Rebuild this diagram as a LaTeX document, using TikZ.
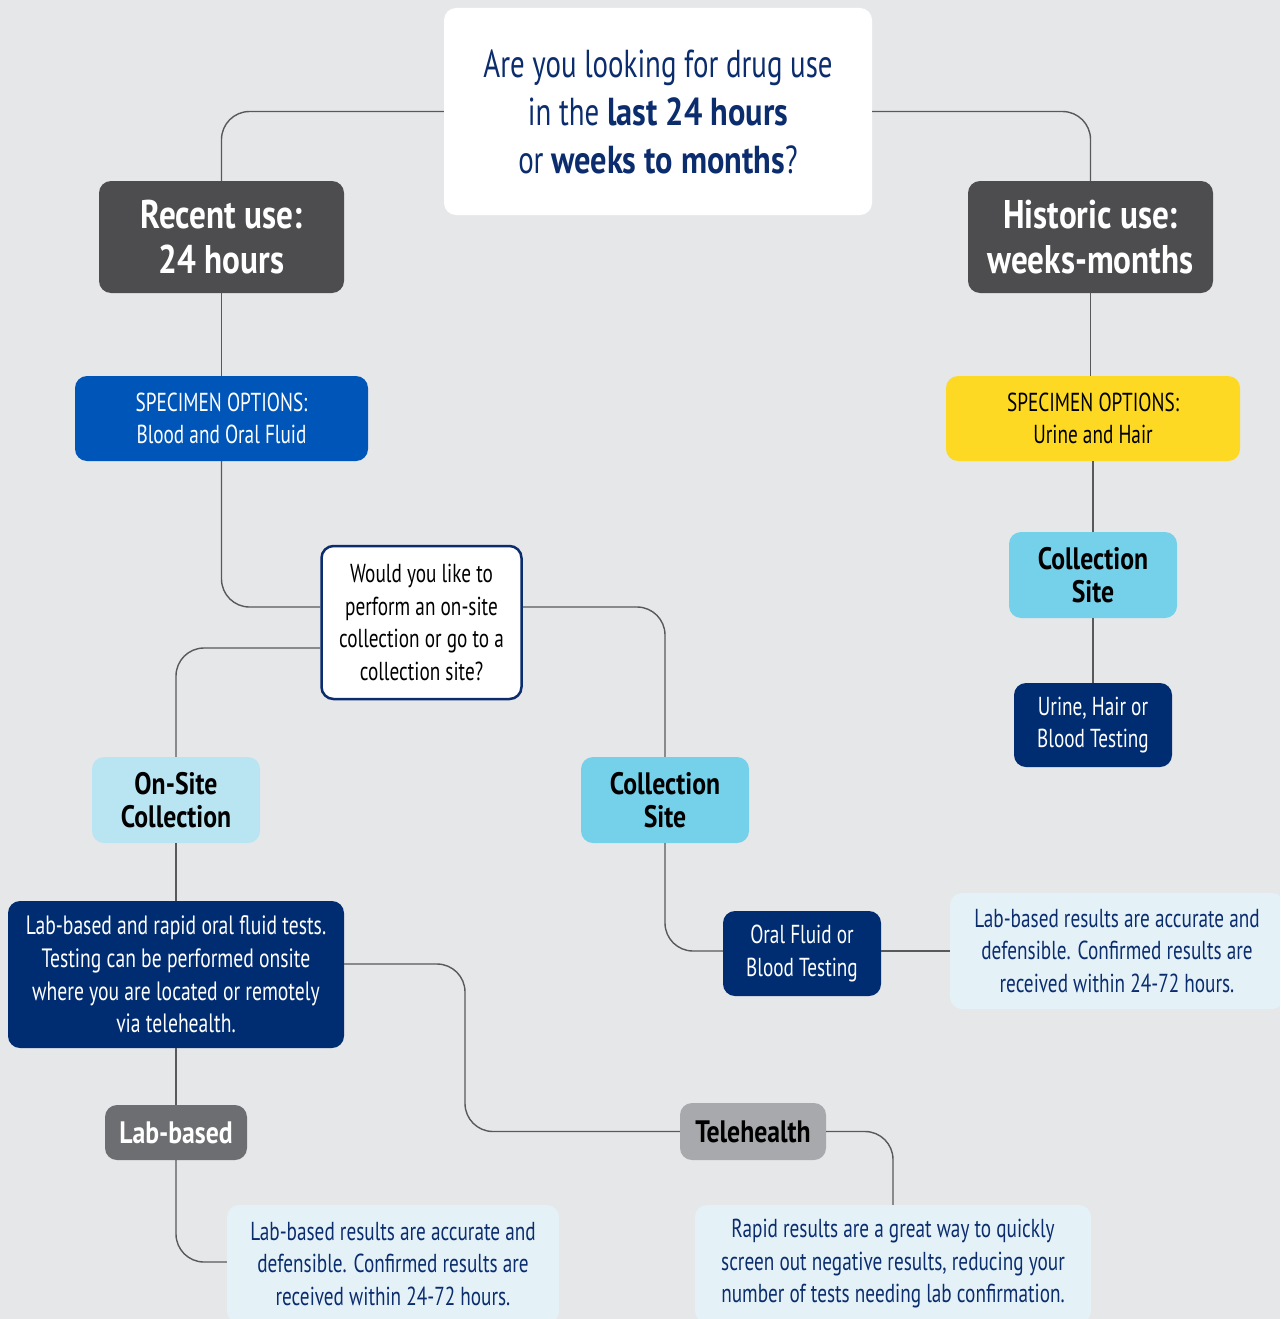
\documentclass[tikz,border=0pt]{standalone}
\usepackage{fontspec}
\setmainfont[FakeStretch=0.74, BoldFeatures={FakeStretch=0.83}]{PT Sans}
\definecolor{bgc}{HTML}{E6E7E9}
\definecolor{navytxt}{HTML}{0B2D6E}
\definecolor{darkbox}{HTML}{4D4D4F}
\definecolor{bluebox}{HTML}{0055B8}
\definecolor{yellowbox}{HTML}{FDD923}
\definecolor{cyanbox}{HTML}{75D0EA}
\definecolor{lcyanbox}{HTML}{B9E5F3}
\definecolor{navybox}{HTML}{002D72}
\definecolor{telebox}{HTML}{A7A9AC}
\definecolor{labbox}{HTML}{6D6E71}
\definecolor{resbox}{HTML}{E4F2F8}
\definecolor{linec}{HTML}{58595B}
\tikzset{
  box/.style={rounded corners=12pt, inner sep=0pt, align=center, draw=none},
  conn/.style={draw=linec, line width=1.4pt, rounded corners=28pt},
  fs/.style={font=\fontsize{26}{32.5}\selectfont},
  fsb/.style={font=\bfseries\fontsize{31}{32.5}\selectfont},
}
\begin{document}
\begin{tikzpicture}[x=1pt,y=-1pt]
\fill[bgc] (0,0) rectangle (1280,1319);
\useasboundingbox (0,0) rectangle (1280,1319);
\clip (0,0) rectangle (1280,1319);

% nodes
\node[box, fill=white, text=navytxt, minimum width=428pt, minimum height=207pt,
  font=\fontsize{39}{48}\selectfont] (top) at (658,111.5)
  {Are you looking for drug use\\in the \textbf{last 24 hours}\\or \textbf{weeks to months}?};
\node[box, fill=darkbox, text=white, minimum width=245pt, minimum height=112pt,
  font=\bfseries\fontsize{40}{45}\selectfont] (recent) at (221.5,237) {Recent use:\\24 hours};
\node[box, fill=darkbox, text=white, minimum width=245pt, minimum height=112pt,
  font=\bfseries\fontsize{40}{45}\selectfont] (hist) at (1090.5,237) {Historic use:\\weeks-months};
\node[box, fs, fill=bluebox, text=white, minimum width=293pt, minimum height=85pt] (spec1) at (221.5,418.5)
  {SPECIMEN OPTIONS:\\Blood and Oral Fluid};
\node[box, fs, fill=yellowbox, text=black, minimum width=294pt, minimum height=85pt] (spec2) at (1093,418.5)
  {SPECIMEN OPTIONS:\\Urine and Hair};
\node[box, fsb, fill=cyanbox, text=black, minimum width=168pt, minimum height=86pt] (site2) at (1093,575)
  {Collection\\Site};
\node[box, fs, fill=navybox, text=white, minimum width=158pt, minimum height=84pt] (urine) at (1093,725)
  {Urine, Hair or\\Blood Testing};
\node[box, fs, fill=white, draw=navytxt, line width=2.5pt, text=black, minimum width=200pt, minimum height=153pt] (ques) at (421.5,622.5)
  {Would you like to\\perform an on-site\\collection or go to a\\collection site?};
\node[box, fsb, fill=cyanbox, text=black, minimum width=168pt, minimum height=86pt] (site1) at (665,800)
  {Collection\\Site};
\node[box, fsb, fill=lcyanbox, text=black, minimum width=168pt, minimum height=86pt] (onsite) at (176,800)
  {On-Site\\Collection};
\node[box, fill=navybox, text=white, minimum width=336pt, minimum height=147pt,
  font=\fontsize{26.5}{32.7}\selectfont] (labrapid) at (176,974.5)
  {Lab-based and rapid oral fluid tests.\\Testing can be performed onsite\\where you are located or remotely\\via telehealth.};
\node[box, fs, fill=navybox, text=white, minimum width=158pt, minimum height=85pt] (oral) at (802,953.5)
  {Oral Fluid or\\Blood Testing};
\node[box, fs, fill=resbox, text=navytxt, minimum width=334pt, minimum height=116pt] (res1) at (1117,951)
  {Lab-based results are accurate and\\defensible. Confirmed results are\\received within 24-72 hours.};
\node[box, fsb, fill=telebox, text=black, minimum width=146pt, minimum height=57pt] (tele) at (753,1131.5)
  {Telehealth};
\node[box, fsb, fill=labbox, text=white, minimum width=142pt, minimum height=55pt] (labbased) at (176,1132.5)
  {Lab-based};
\node[box, fs, fill=resbox, text=navytxt, minimum width=332pt, minimum height=118pt] (labres) at (393,1264)
  {Lab-based results are accurate and\\defensible. Confirmed results are\\received within 24-72 hours.};
\node[box, fs, fill=resbox, text=navytxt, minimum width=396pt, minimum height=118pt] (rapid) at (893,1264)
  {Rapid results are a great way to quickly\\screen out negative results, reducing your\\number of tests needing lab confirmation.};

% connectors
\draw[conn] (top.west) -| (recent.north);
\draw[conn] (top.east) -| (hist.north);
\draw[conn] (recent.south) -- (spec1.north);
\draw[conn] (hist.south) -- (hist.south |- spec2.north);
\draw[conn] (spec2.south) -- (site2.north);
\draw[conn] (site2.south) -- (urine.north);
\draw[conn] (spec1.south) |- (ques.west |- 0,607);
\draw[conn] (ques.east |- 0,607) -| (site1.north);
\draw[conn] (ques.west |- 0,648) -| (onsite.north);
\draw[conn] (onsite.south) -- (labrapid.north);
\coordinate (tb1) at (465,964);
\coordinate (tb2) at (465,1131.5);
\draw[conn] (labrapid.east |- tb1) -- (tb1) -- (tb2) -- (tele.west);
\draw[conn] (tele.east) -| (rapid.north);
\draw[conn] (labrapid.south) -- (labbased.north);
\draw[conn] (labbased.south) |- (labres.west |- 0,1262);
\draw[conn] (site1.south) |- (oral.west |- res1.west);
\draw[conn] (oral.east |- res1.west) -- (res1.west);
\end{tikzpicture}
\end{document}
